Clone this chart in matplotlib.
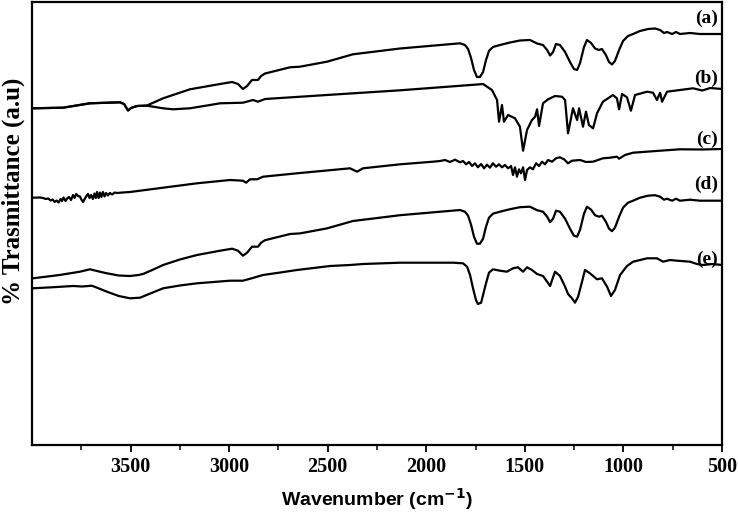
import matplotlib
matplotlib.use("Agg")
import matplotlib.pyplot as plt

# ---------------- data (wavenumber cm-1, transmittance a.u.) ----------------
a_wn = [3995, 3843, 3706, 3554, 3533, 3513, 3498, 3467, 3417, 3335, 3199, 3046, 2985,
        2955, 2930, 2909, 2884, 2854, 2838, 2818, 2691, 2641, 2504, 2372, 2133, 1829,
        1804, 1788, 1773, 1758, 1743, 1728, 1712, 1697, 1682, 1662, 1626, 1575, 1525,
        1474, 1438, 1408, 1387, 1372, 1357, 1342, 1322, 1296, 1271, 1251, 1235, 1220,
        1200, 1185, 1164, 1144, 1124, 1109, 1089, 1073, 1058, 1043, 1022, 1002, 977,
        951, 916, 875, 840, 814, 794, 779, 753, 733, 713, 662, 612, 500]
a_t = [336.7, 337.3, 341.7, 342.7, 341, 334.5, 337, 339, 339.5, 346.7, 355.7, 361, 363,
       361, 356, 359, 365, 365, 369, 371.5, 377.7, 378.3, 383.3, 390.7, 396.5, 401.7,
       400, 396, 387, 375, 368, 368, 373, 385, 394, 398, 400, 402.5, 404.5,
       405, 401.5, 400, 395, 389.5, 393, 401, 400, 393, 383, 376, 375, 382,
       398, 405, 402, 396.5, 395, 396, 390, 383, 380.5, 384, 395, 404, 409,
       411, 414, 416, 416.5, 415, 412, 413, 411, 413, 411, 412, 411, 411]

b_wn = [3995, 3843, 3706, 3554, 3533, 3513, 3498, 3467, 3417, 3335, 3285, 3199, 3097,
        3046, 2930, 2879, 2854, 2818, 2504, 2133, 1728, 1712, 1667, 1641, 1631, 1616,
        1606, 1585, 1550, 1525, 1509, 1489, 1464, 1448, 1438, 1428, 1408, 1382, 1347,
        1312, 1296, 1281, 1256, 1235, 1225, 1205, 1190, 1175, 1154, 1134, 1104, 1053,
        1033, 1022, 1007, 982, 962, 941, 880, 850, 830, 814, 804, 779, 713, 647, 600,
        560, 500]
b_t = [336.7, 337.3, 341.7, 342.7, 341, 334.5, 337, 339, 339.3, 336.7, 335.7, 336.7, 340,
       341.7, 342.3, 345, 343.3, 346, 350, 354.7, 360.7, 361, 355, 345, 323.3, 340,
       323.3, 330, 326.7, 318.3, 294.3, 315, 325, 328.3, 335.7, 319, 341.7, 345.7, 349,
       348.3, 345, 311.7, 336.7, 325, 336.7, 318.3, 333.3, 320, 316.7, 331.7, 343.3, 350,
       346.7, 335.7, 351, 347.7, 334.3, 350, 353.3, 352.3, 345, 352.3, 343.3, 353.3, 355,
       356.7, 354.5, 357, 356]

c_wn = [3995, 3960, 3944, 3930, 3918, 3905, 3895, 3885, 3875, 3865, 3855, 3848, 3840,
        3830, 3822, 3812, 3802, 3792, 3784, 3776, 3766, 3757, 3748, 3741, 3733, 3724,
        3716, 3708, 3700, 3691, 3683, 3676, 3670, 3662, 3655, 3648, 3640, 3632, 3624,
        3615, 3605, 3594, 3580, 3569, 3540, 3503, 3335, 3163, 2996, 2930, 2914, 2894,
        2859, 2828, 2656, 2387, 2351, 2321, 2133, 1966, 1930, 1905, 1880, 1854, 1829,
        1814, 1798, 1783, 1768, 1753, 1738, 1722, 1707, 1692, 1677, 1662, 1646, 1631,
        1616, 1601, 1585, 1570, 1560, 1550, 1540, 1530, 1520, 1509, 1499, 1489, 1474,
        1459, 1443, 1428, 1413, 1398, 1382, 1362, 1342, 1322, 1301, 1281, 1261, 1220,
        1190, 1154, 1104, 1068, 1033, 1022, 992, 951, 814, 713, 600, 500]
c_t = [247.3, 247.5, 247, 246, 246.5, 244.5, 245.5, 243, 244.5, 242.5, 246, 244, 247.5,
       244, 246.5, 248, 245, 250, 247, 251, 249, 248.5, 245, 243, 246, 249,
       251, 247, 250, 246, 251.5, 247, 253, 247, 252.5, 248, 253, 248.5, 252,
       249.5, 252, 250.5, 252.5, 252, 252.5, 253, 257.3, 261.7, 265, 264.3, 262.3, 265.7,
       265.7, 268.3, 271.7, 276.7, 273.3, 276.7, 280.7, 283.3, 284, 285, 283, 285.3, 282.7,
       284, 280.7, 283, 279, 281.7, 277.7, 281, 276.7, 280.3, 277.3, 281.7, 278.3, 280.7,
       277.7, 280, 276.7, 279, 270, 277.7, 268.3, 275.7, 271.7, 277.7, 265, 275, 277.7,
       275.7, 281.7, 279, 283.3, 280.7, 285, 283.3, 286.7, 287.7, 285.7, 281.7, 284.3, 285,
       283, 283.3, 286.7, 287.3, 288.3, 286.3, 290, 292.3, 294.3, 295.7, 295.5, 296]

d_wn = [3995, 3860, 3757, 3706, 3660, 3620, 3560, 3503, 3460, 3437, 3390, 3335, 3250,
        3163, 3046, 2985, 2955, 2930, 2909, 2884, 2854, 2838, 2818, 2691, 2641, 2504,
        2372, 2133, 1829, 1804, 1788, 1773, 1758, 1743, 1728, 1712, 1697, 1682, 1662,
        1626, 1575, 1525, 1474, 1438, 1408, 1387, 1372, 1357, 1342, 1322, 1296, 1271,
        1251, 1235, 1220, 1200, 1185, 1164, 1144, 1124, 1109, 1089, 1073, 1058, 1043,
        1022, 1002, 977, 951, 916, 875, 840, 814, 794, 779, 753, 733, 713, 662, 612, 500]
d_t = [166.7, 170, 173.3, 175.7, 173.5, 171.7, 169.5, 169, 170, 171, 175, 180, 185.5,
       190, 194.3, 196.3, 194.3, 189.3, 192.3, 198.3, 198.3, 202.3, 204.8, 211, 211.6, 216.6,
       224, 229.8, 235, 233.3, 229.3, 220.3, 208.3, 201.3, 201.3, 206.3, 218.3, 227.3, 231.3,
       233.3, 235.8, 237.8, 238.3, 234.8, 233.3, 228.3, 222.8, 226.3, 234.3, 233.3, 226.3, 216.3,
       209.3, 208.3, 215.3, 231.3, 238.3, 235.3, 229.8, 228.3, 229.3, 223.3, 216.3, 213.8, 217.3,
       228.3, 237.3, 242.3, 244.3, 247.3, 249.3, 249.8, 248.3, 245.3, 246.3, 244.3, 246.3, 244.3,
       245.3, 244.3, 244.3]

e_wn = [3995, 3900, 3792, 3746, 3696, 3660, 3620, 3560, 3503, 3452, 3400, 3335, 3250,
        3163, 2996, 2930, 2880, 2828, 2740, 2656, 2488, 2387, 2321, 2133, 1930, 1864,
        1814, 1793, 1778, 1763, 1748, 1738, 1722, 1712, 1697, 1682, 1662, 1626, 1591,
        1560, 1535, 1509, 1489, 1464, 1438, 1408, 1387, 1372, 1357, 1347, 1322, 1296,
        1281, 1261, 1246, 1230, 1210, 1195, 1170, 1134, 1109, 1083, 1063, 1043, 1017,
        982, 951, 880, 830, 799, 764, 728, 662, 627, 597, 546, 500]
e_t = [156.7, 157.7, 159, 158.5, 159.3, 156.5, 153.3, 149, 146.7, 147.3, 151.5, 156.7, 159.5,
       161.7, 164.3, 164.3, 167, 170, 172.5, 175, 179, 180, 181, 182.3, 182.3, 182.3,
       181.7, 178.3, 170, 156.7, 145, 141, 142.3, 150, 161.7, 172.3, 175.7, 174.3, 173.3,
       176.7, 177.7, 173.3, 177.7, 175, 171, 169, 163.3, 159, 167.7, 173.3, 169, 158.3,
       151, 146.7, 142.3, 148.3, 163.3, 175, 171.7, 165.7, 166.7, 158.3, 149, 155, 170,
       179, 183.3, 186.7, 186.7, 183.3, 185, 184.3, 183.3, 181, 180, 181, 180]

labels = ["(a)", "(b)", "(c)", "(d)", "(e)"]
label_y = [427, 367, 306, 261, 186]
x_ticks = [3500, 3000, 2500, 2000, 1500, 1000, 500]
x_minor = [3750, 3250, 2750, 2250, 1750, 1250, 750]

# ---------------- figure ----------------
fig = plt.figure(figsize=(7.38, 5.18), dpi=100)
ax = fig.add_axes([32 / 738, 73 / 518, 690 / 738, 443 / 518])

for wn, t in [(a_wn, a_t), (b_wn, b_t), (c_wn, c_t), (d_wn, d_t), (e_wn, e_t)]:
    ax.plot(wn, t, color="black", lw=1.6, solid_joinstyle="round")

ax.set_xlim(4000, 500)
ax.set_ylim(0, 443)
ax.set_xticks(x_ticks)
ax.set_xticks(x_minor, minor=True)
ax.set_yticks([])
ax.tick_params(axis="x", which="major", direction="out", length=5, width=1.3)
ax.tick_params(axis="x", which="minor", direction="out", length=3.5, width=1.1)
for lab in ax.get_xticklabels():
    lab.set_fontfamily("Liberation Serif")
    lab.set_fontweight("bold")
    lab.set_fontsize(14.5)

for s in ax.spines.values():
    s.set_linewidth(1.6)

for lab, y in zip(labels, label_y):
    ax.text(520, y, lab, ha="right", va="center", fontsize=14,
            fontweight="bold", family="Liberation Serif")

plt.rcParams["mathtext.fontset"] = "custom"
plt.rcParams["mathtext.rm"] = "Liberation Sans"
plt.rcParams["mathtext.bf"] = "Liberation Sans:bold"
ax.set_xlabel("Wavenumber (cm$^{\\mathbf{-1}}$)", fontsize=14, fontweight="bold",
              family="Liberation Sans", labelpad=7)
ax.set_ylabel("% Trasmittance (a.u)", fontsize=18, fontweight="bold",
              family="Liberation Serif", va="center")
ax.yaxis.set_label_coords(-0.027, 0.573)

fig.savefig("out.png", dpi=100)
